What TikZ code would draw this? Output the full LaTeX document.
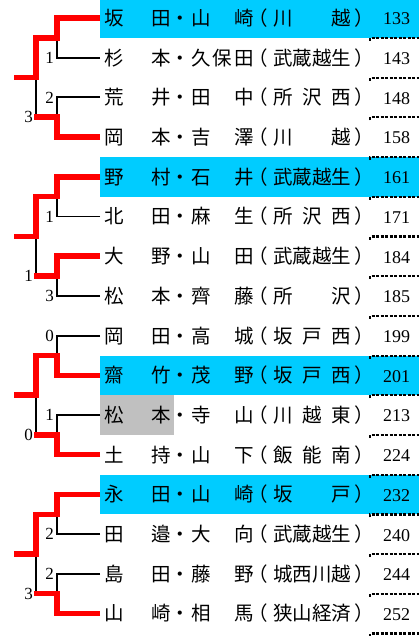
\documentclass[tikz,border=0pt]{standalone}
\usepackage{fontspec}
\setmainfont{Liberation Serif}
\newfontfamily\cjk{Noto Sans CJK JP}
\usetikzlibrary{calc}

\definecolor{winblue}{HTML}{00CCFF}
\definecolor{markgray}{HTML}{C0C0C0}
\definecolor{winred}{HTML}{FF0000}

\begin{document}
\begin{tikzpicture}[x=1pt, y=-1pt]

% Styles
\tikzset{
  win/.style={draw=winred, line width=5.5pt},
  lose/.style={draw=black, line width=1.8pt},
  kanji/.style={font=\cjk\fontsize{19.5}{19.5}\selectfont, inner sep=0pt,
    text height=17.2pt, text depth=2.3pt},
  field/.style={kanji, anchor=west},
  number/.style={font=\fontsize{18}{18}\selectfont, inner sep=0pt},
  score/.style={font=\fontsize{17}{17}\selectfont, inner sep=0pt,
    anchor=east, xshift=-3pt},
  cell/.style={dash pattern=on 3pt off 1.5pt, line width=2.2pt}
}

\useasboundingbox (0,0) rectangle (419,636);

% Highlighted rows
\foreach \r in {1,5,10,13}{
  \pgfmathsetmacro\y{18+39.7*(\r-1)}
  \fill[winblue] (100,\y-19.7) rectangle (419,\y+20);
}
\fill[markgray] (100,395.3) rectangle (174,435);

% Dotted cell borders
\foreach \k in {1,...,16}{
  \pgfmathsetmacro\yl{38+39.7*(\k-1)}
  \draw[cell] (370,\yl+3) -- (370,\yl) -- (419,\yl);
}

% Entries
\foreach \r/\fa/\fb/\sch/\num in {
  1/{坂\hfill 田}/{山\hfill 崎}/{川\hfill 越}/133,
  2/{杉\hfill 本}/{久\hfill 保\hfill 田}/{武\hfill 蔵\hfill 越\hfill 生}/143,
  3/{荒\hfill 井}/{田\hfill 中}/{所\hfill 沢\hfill 西}/148,
  4/{岡\hfill 本}/{吉\hfill 澤}/{川\hfill 越}/158,
  5/{野\hfill 村}/{石\hfill 井}/{武\hfill 蔵\hfill 越\hfill 生}/161,
  6/{北\hfill 田}/{麻\hfill 生}/{所\hfill 沢\hfill 西}/171,
  7/{大\hfill 野}/{山\hfill 田}/{武\hfill 蔵\hfill 越\hfill 生}/184,
  8/{松\hfill 本}/{齊\hfill 藤}/{所\hfill 沢}/185,
  9/{岡\hfill 田}/{高\hfill 城}/{坂\hfill 戸\hfill 西}/199,
  10/{齋\hfill 竹}/{茂\hfill 野}/{坂\hfill 戸\hfill 西}/201,
  11/{松\hfill 本}/{寺\hfill 山}/{川\hfill 越\hfill 東}/213,
  12/{土\hfill 持}/{山\hfill 下}/{飯\hfill 能\hfill 南}/224,
  13/{永\hfill 田}/{山\hfill 崎}/{坂\hfill 戸}/232,
  14/{田\hfill 邉}/{大\hfill 向}/{武\hfill 蔵\hfill 越\hfill 生}/240,
  15/{島\hfill 田}/{藤\hfill 野}/{城\hfill 西\hfill 川\hfill 越}/244,
  16/{山\hfill 崎}/{相\hfill 馬}/{狭\hfill 山\hfill 経\hfill 済}/252%
}{
  \pgfmathsetmacro\y{18+39.7*(\r-1)}
  \coordinate (r\r) at (100,\y);
  \node[field] (na\r) at (104,\y) {\makebox[67pt]{\fa}};
  \node[kanji] (dot\r) at (180,\y) {・};
  \node[field] (nb\r) at (191,\y) {\makebox[63pt]{\fb}};
  \node[kanji] (lp\r) at (258,\y) {（};
  \node[field] (sch\r) at (273,\y) {\makebox[78pt]{\sch}};
  \node[kanji] (rp\r) at (364,\y) {）};
  \node[number] (no\r) at (396.5,\y+1) {\num};
}

% Brackets
\foreach \g/\wa/\la/\wb/\lb/\pa/\pb/\pf in {1/1/2/4/3/1/2/3,
    2/5/6/7/8/1/3/1, 3/10/9/12/11/0/1/0, 4/13/14/16/15/2/2/3}{
  \pgfmathsetmacro\ya{18+39.7*(4*\g-3.5)}
  \pgfmathsetmacro\yb{18+39.7*(4*\g-1.5)}
  \pgfmathsetmacro\yf{18+39.7*(4*\g-2.5)}
  \coordinate (sa\g) at (57,\ya);
  \coordinate (sb\g) at (57,\yb);
  \coordinate (fa\g) at (36,\ya);
  \coordinate (fb\g) at (36,\yb);
  \coordinate (fin\g) at (36,\yf);
  \coordinate (top\g) at (14,\yf);
  % losers
  \draw[lose] (r\la) -| (sa\g);
  \draw[lose] (r\lb) -| (sb\g);
  \draw[lose] (fb\g) -- (fin\g);
  % winners
  \draw[win] (r\wa) -| (sa\g) -- (fa\g) -- (fin\g) -- (top\g);
  \draw[win, shorten >=-2.5pt] (r\wb) -| (sb\g) -- (fb\g);
  % points
  \node[score] (pa\g) at (r\la -| sa\g) {\pa};
  \node[score] (pb\g) at (r\lb -| sb\g) {\pb};
  \node[score] (pf\g) at (fb\g) {\pf};
}

\end{tikzpicture}
\end{document}
